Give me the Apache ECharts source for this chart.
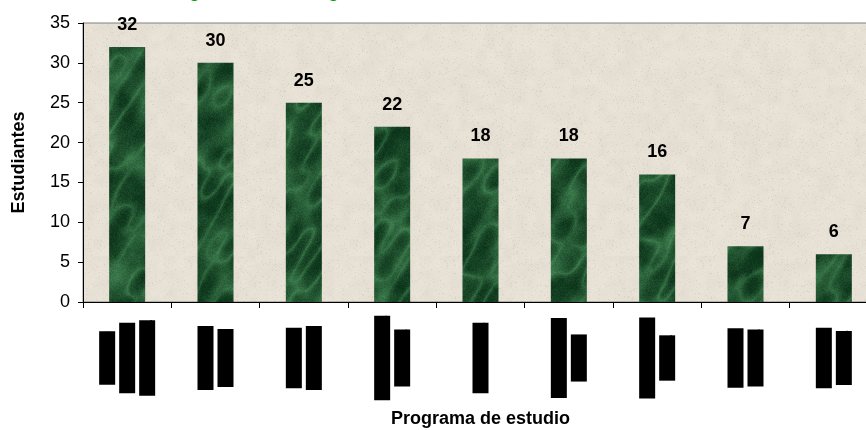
<!DOCTYPE html>
<html>
<head>
<meta charset="utf-8">
<script src="https://cdn.jsdelivr.net/npm/echarts@6/dist/echarts.min.js"></script>
<style>
html,body{margin:0;padding:0;background:#fff;}
#chart{width:866px;height:430px;}
</style>
</head>
<body>
<div id="chart"></div>
<script>
// Category labels (redacted in the reference; shown as black blocks), one array of lines per bar
const categoryLines = [
  ["Diseño", "Sistemas", "Ingeniería"],
  ["Derecho", "Laboral"],
  ["Técnico", "Agrícola"],
  ["Contaduría", "Pública"],
  ["Farmacia"],
  ["Psicología", "Social"],
  ["Educación", "Física"],
  ["Gestión", "Pública"],
  ["Idiomas", "Música"]
];
const values = [32, 30, 25, 22, 18, 18, 16, 7, 6];
const yTicks = [0, 5, 10, 15, 20, 25, 30, 35];
const titleText = "Estudiantes según Área de Programa";
const xName = "Programa de estudio";
const yName = "Estudiantes";

const categories = categoryLines.map(l => l.join("\n"));
const FONT = "'Liberation Sans', Arial, sans-serif";

// deterministic textures (style only)
function hash(x, y) {
  let h = (x * 374761393 + y * 668265263) | 0;
  h = (h ^ (h >>> 13)) * 1274126177 | 0;
  return ((h ^ (h >>> 16)) >>> 0) / 4294967295;
}
function vnoise(x, y) {
  const xi = Math.floor(x), yi = Math.floor(y);
  const fx = x - xi, fy = y - yi;
  const sx = fx * fx * (3 - 2 * fx), sy = fy * fy * (3 - 2 * fy);
  const a = hash(xi, yi), b = hash(xi + 1, yi), c = hash(xi, yi + 1), d = hash(xi + 1, yi + 1);
  return a + (b - a) * sx + (c - a) * sy + (a - b - c + d) * sx * sy;
}
function marble() {
  const W = 880, H = 330;
  const c = document.createElement('canvas');
  c.width = W; c.height = H;
  const ctx = c.getContext('2d');
  const img = ctx.createImageData(W, H);
  for (let y = 0; y < H; y++) {
    for (let x = 0; x < W; x++) {
      let f = 0, amp = 0.5, fr = 1 / 22;
      for (let o = 0; o < 4; o++) {
        f += amp * vnoise(x * fr + 13 * o, y * fr + 7 * o);
        amp *= 0.5; fr *= 2;
      }
      const ridge = 1 - Math.abs(2 * vnoise((x + y * 0.6) / 14 + 50, (y - x * 0.3) / 30 + 50) - 1);
      let v = 0.55 * f + 0.45 * Math.pow(ridge, 3);
      v = v * 0.85 + hash(x + 999, y) * 0.15;
      v = Math.max(0, Math.min(1, (v - 0.2) * 1.4));
      const i = (y * W + x) * 4;
      img.data[i] = 12 + v * 60;
      img.data[i + 1] = 52 + v * 88;
      img.data[i + 2] = 26 + v * 62;
      img.data[i + 3] = 255;
    }
  }
  ctx.putImageData(img, 0, 0);
  return c;
}
function paper() {
  const W = 256, H = 256;
  const c = document.createElement('canvas');
  c.width = W; c.height = H;
  const ctx = c.getContext('2d');
  const img = ctx.createImageData(W, H);
  for (let y = 0; y < H; y++) {
    for (let x = 0; x < W; x++) {
      const n = hash(x, y);
      const cl = vnoise(x / 9, y / 9);
      const d = (n > 0.96 ? 16 : n * 5) + cl * 6;
      const i = (y * W + x) * 4;
      img.data[i] = 236 - d;
      img.data[i + 1] = 229 - d;
      img.data[i + 2] = 217 - d;
      img.data[i + 3] = 255;
    }
  }
  ctx.putImageData(img, 0, 0);
  return c;
}

const chart = echarts.init(document.getElementById('chart'), null, {renderer: 'canvas'});
chart.setOption({
  animation: false,
  backgroundColor: '#ffffff',
  title: {
    text: titleText,
    left: 57,
    top: -22,
    textStyle: {color: '#009900', fontWeight: 'bold', fontSize: 18, fontFamily: FONT}
  },
  grid: {
    left: 83, right: -12, top: 23, bottom: 128,
    outerBoundsMode: 'none',
    containLabel: false,
    show: true,
    backgroundColor: {image: paper(), repeat: 'repeat'},
    borderColor: '#808080',
    borderWidth: 1
  },
  xAxis: {
    type: 'category',
    data: categories,
    name: xName,
    nameLocation: 'middle',
    nameGap: 108,
    nameTextStyle: {color: '#000', fontWeight: 'bold', fontSize: 18, fontFamily: FONT},
    axisLine: {lineStyle: {color: '#000', width: 1}},
    axisTick: {show: true, length: 6, lineStyle: {color: '#000'}},
    axisLabel: {
      interval: 0,
      rotate: 90,
      align: 'center',
      verticalAlign: 'middle',
      margin: 56,
      formatter: v => v.split('\n').map(s => '{b|' + s + '}').join('\n'),
      rich: {
        b: {color: '#000', backgroundColor: '#000', fontSize: 16, fontWeight: 'bold', lineHeight: 20, fontFamily: FONT}
      }
    }
  },
  yAxis: {
    type: 'value',
    min: yTicks[0],
    max: yTicks[yTicks.length - 1],
    interval: yTicks[1] - yTicks[0],
    name: yName,
    nameLocation: 'middle',
    nameGap: 55,
    nameTextStyle: {color: '#000', fontWeight: 'bold', fontSize: 18, fontFamily: FONT},
    axisLine: {show: true, lineStyle: {color: '#000', width: 1}},
    axisTick: {show: true, length: 5, lineStyle: {color: '#000'}},
    splitLine: {show: false},
    axisLabel: {color: '#000', fontSize: 18, fontFamily: FONT, margin: 13}
  },
  series: [{
    type: 'bar',
    data: values,
    barWidth: 36,
    itemStyle: {
      color: {image: marble(), repeat: 'repeat'}
    },
    label: {
      show: true,
      position: 'top',
      distance: 13,
      color: '#000',
      fontWeight: 'bold',
      fontSize: 18,
      fontFamily: FONT
    }
  }]
});
</script>
</body>
</html>
